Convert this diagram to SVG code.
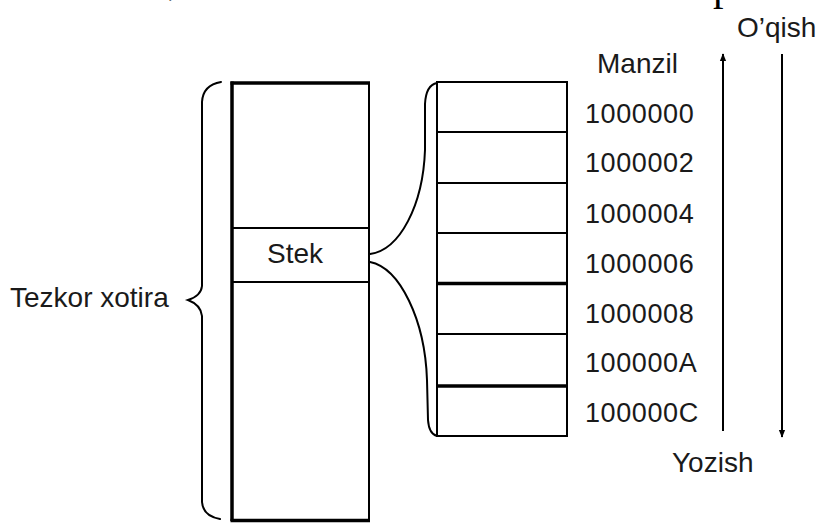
<svg xmlns="http://www.w3.org/2000/svg" width="822" height="523" viewBox="0 0 822 523">
  <style>
    .lbl { font-family: "Liberation Sans", Arial, sans-serif; font-size: 28px; fill: #1a1a1a; }
    .addr { font-family: "Liberation Sans", Arial, sans-serif; font-size: 27px; fill: #1a1a1a; letter-spacing: 0.6px; }
    .frag { font-family: "Liberation Serif", "Times New Roman", serif; font-size: 42px; fill: #000; }
    .ln { stroke: #000; stroke-width: 2; fill: none; }
    .thick { stroke: #000; stroke-width: 3.5; fill: none; }
    .brace { stroke: #000; stroke-width: 2; fill: none; stroke-linecap: round; }
  </style>
  <defs>
    <marker id="head" viewBox="0 0 10 10" refX="9" refY="5" markerWidth="8" markerHeight="8" markerUnits="userSpaceOnUse" orient="auto">
      <path d="M0,1 L10,5 L0,9 Z" fill="#000"/>
    </marker>
  </defs>

  <rect width="822" height="523" fill="#fff"/>

  <!-- text cut off at the top edge -->
  <text class="frag" x="168" y="-6">,</text>
  <text class="frag" x="713" y="0">p</text>

  <!-- main memory column -->
  <g id="memory">
    <line class="thick" x1="232" y1="81.5" x2="232" y2="521"/>
    <line class="thick" x1="230.5" y1="83" x2="370" y2="83"/>
    <line class="thick" x1="230.5" y1="520.5" x2="370" y2="520.5"/>
    <line class="ln" x1="369" y1="82" x2="369" y2="522"/>
    <line class="ln" x1="232" y1="228" x2="369" y2="228"/>
    <line class="ln" x1="232" y1="282" x2="369" y2="282"/>
    <text class="lbl" x="295" y="263" text-anchor="middle">Stek</text>
  </g>

  <!-- brace and label for the whole memory -->
  <g id="ram-label">
    <path class="brace" d="M221,82 Q203,85 202,102 L202,286 Q201,296 188,300 Q201,305 202,316 L202,502 Q203,516 220,519"/>
    <text class="lbl" x="10" y="307">Tezkor xotira</text>
  </g>

  <!-- stack cells -->
  <g id="stack">
    <rect class="ln" x="437" y="82" width="130" height="354"/>
    <line class="ln" x1="437" y1="132" x2="567" y2="132"/>
    <line class="ln" x1="437" y1="183" x2="567" y2="183"/>
    <line class="ln" x1="437" y1="233" x2="567" y2="233"/>
    <line class="thick" x1="437" y1="283.5" x2="567" y2="283.5"/>
    <line class="ln" x1="437" y1="334" x2="567" y2="334"/>
    <line class="thick" x1="437" y1="386" x2="567" y2="386"/>
  </g>

  <!-- addresses -->
  <g id="addresses">
    <text class="lbl" x="597" y="73">Manzil</text>
    <text class="addr" x="585" y="123">1000000</text>
    <text class="addr" x="585" y="172">1000002</text>
    <text class="addr" x="585" y="223">1000004</text>
    <text class="addr" x="585" y="273">1000006</text>
    <text class="addr" x="585" y="323">1000008</text>
    <text class="addr" x="585" y="372">100000A</text>
    <text class="addr" x="585" y="422">100000C</text>
  </g>

  <!-- read / write directions -->
  <g id="read">
    <text class="lbl" x="737" y="37">O’qish</text>
  </g>
  <g id="write">
    <text class="lbl" x="672" y="472">Yozish</text>
  </g>

  <g id="connectors">
    <!-- expansion of the stack region -->
    <path class="brace" d="M437,83 Q426,85 425,104 L425,150 C423,205 400,250 370,254"/>
    <path class="brace" d="M370,262 C400,268 425,320 427,380 L428,420 Q429,434 437,436"/>
    <!-- direction arrows -->
    <line class="ln" x1="723" y1="431" x2="723" y2="54" marker-end="url(#head)"/>
    <line class="ln" x1="782" y1="54" x2="782" y2="437" marker-end="url(#head)"/>
  </g>
</svg>
